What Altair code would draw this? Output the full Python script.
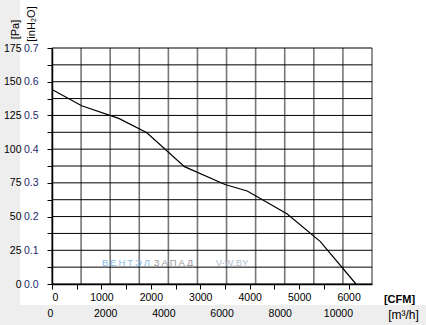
import altair as alt
import pandas as pd

# curve
cfm = [0, 600, 1350, 1920, 2680, 3500, 3950, 4760, 5430, 6150]
pa = [144.3, 132.2, 122.8, 112.2, 87.0, 73.8, 69.0, 51.9, 31.4, 0.0]

# grid / tick values
pa_grid = [0, 12.5, 25, 37.5, 50, 62.5, 75, 87.5, 100, 112.5, 125, 137.5, 150, 162.5, 175]
m3h_grid = [0, 1000, 2000, 3000, 4000, 5000, 6000, 7000, 8000, 9000, 10000, 11000]
m3h_labels = [0, 2000, 4000, 6000, 8000, 10000]
cfm_ticks = [0, 500, 1000, 1500, 2000, 2500, 3000, 3500, 4000, 4500, 5000, 5500, 6000]
inh2o_ticks = [0.0, 0.1, 0.2, 0.3, 0.4, 0.5, 0.6, 0.7]

CFM_MAX = 6474.4  # = 11000 m3/h
FONT = "Liberation Sans Narrow, Liberation Sans, Arial, sans-serif"

one = pd.DataFrame({"a": [0]})

bg = alt.Chart(one).mark_rect(color="white", clip=False).encode(
    x=alt.value(-32), x2=alt.value(374), y=alt.value(-48), y2=alt.value(257)
)

hgrid = alt.Chart(pd.DataFrame({"pa": pa_grid})).mark_rule(color="black", strokeWidth=1).encode(
    y=alt.Y("pa:Q", scale=alt.Scale(domain=[0, 175], nice=False),
            axis=alt.Axis(values=pa_grid, format="d",
                          labelExpr="datum.value % 25 == 0 ? datum.label : ''",
                          orient="left", tickSize=5, tickColor="black", tickWidth=1,
                          domainColor="black", domainWidth=1.5, labelPadding=26,
                          labelColor="black", labelFontSize=10.5, labelFont=FONT,
                          grid=False, title="[Pa]", titleAngle=270, titleX=-37, titleY=-19,
                          titleAlign="center", titleBaseline="middle", titleFontWeight="normal",
                          titleFontSize=11, titleFont=FONT, titleColor="black", zindex=1))
)

vgrid = alt.Chart(pd.DataFrame({"m3h": m3h_grid})).mark_rule(color="#777777", strokeWidth=1.6).encode(
    x=alt.X("m3h:Q", scale=alt.Scale(domain=[0, 11000], nice=False),
            axis=alt.Axis(values=m3h_labels, format="d", orient="bottom", ticks=False,
                          domain=False, grid=False, labelPadding=24, labelOffset=-5,
                          labelColor="black", labelFontSize=10.5, labelFont=FONT,
                          title="[m³/h]", titleX=351, titleY=30, titleAlign="center",
                          titleBaseline="middle", titleFontWeight="normal", titleFontSize=12,
                          titleFont=FONT, titleColor="black", zindex=1))
)

curve = alt.Chart(pd.DataFrame({"cfm": cfm, "pa": pa})).mark_line(color="black", strokeWidth=1.2).encode(
    x=alt.X("cfm:Q", scale=alt.Scale(domain=[0, CFM_MAX], nice=False),
            axis=alt.Axis(values=cfm_ticks, format="d",
                          labelExpr="datum.value % 1000 == 0 ? datum.label : ''",
                          orient="bottom", tickSize=5, tickColor="black", domainColor="black",
                          domainWidth=1.5, labelPadding=3, grid=False,
                          labelColor="black", labelFontSize=10.5, labelFont=FONT,
                          title="[CFM]", titleX=347, titleY=15, titleAlign="center",
                          titleBaseline="middle", titleFontWeight="bold", titleFontSize=11,
                          titleFont=FONT, titleColor="black", zindex=1)),
    y=alt.Y("pa:Q", scale=alt.Scale(domain=[0, 175], nice=False), axis=None),
)

inh2o = alt.Chart(pd.DataFrame({"v": inh2o_ticks})).mark_point(opacity=0).encode(
    y=alt.Y("v:Q", scale=alt.Scale(domain=[0, 0.7], nice=False),
            axis=alt.Axis(values=inh2o_ticks, format=".1f", orient="left", ticks=False,
                          domain=False, grid=False, labelPadding=14,
                          labelColor="#1c2a6e", labelFontSize=10.5, labelFont=FONT,
                          title="[inH₂O]", titleAngle=270, titleX=-20.5, titleY=-24.5,
                          titleAlign="center", titleBaseline="middle", titleFontWeight="normal",
                          titleFontSize=11, titleFont=FONT, titleColor="black", zindex=1))
)

wm1 = alt.Chart(one).mark_text(text="В\u2009Е\u2009Н\u2009Т\u2009Э\u2009Л", color="#86bde8",
                               fontSize=9.5, font="Liberation Sans").encode(
    x=alt.value(74), y=alt.value(215))
wm2 = alt.Chart(one).mark_text(text="З\u2009А\u2009П\u2009А\u2009Д", color="#9a9a9a",
                               fontSize=9.5, font="Liberation Sans").encode(
    x=alt.value(121.5), y=alt.value(215))
wm3 = alt.Chart(one).mark_text(text="V-W.BY", color="#b4c0cf",
                               fontSize=9.5, font="Liberation Sans").encode(
    x=alt.value(180), y=alt.value(215))

chart = alt.layer(bg, vgrid, hgrid, wm1, wm2, wm3, curve, inh2o).resolve_scale(
    x="independent", y="independent"
).properties(
    width=320, height=236,
    autosize=alt.AutoSizeParams(type="none"),
    padding={"left": 52, "top": 48, "right": 54, "bottom": 41},
    background="#eeeeee",
).configure_view(stroke=None)

chart.save("out.html", embed_options={"renderer": "svg", "actions": False})
